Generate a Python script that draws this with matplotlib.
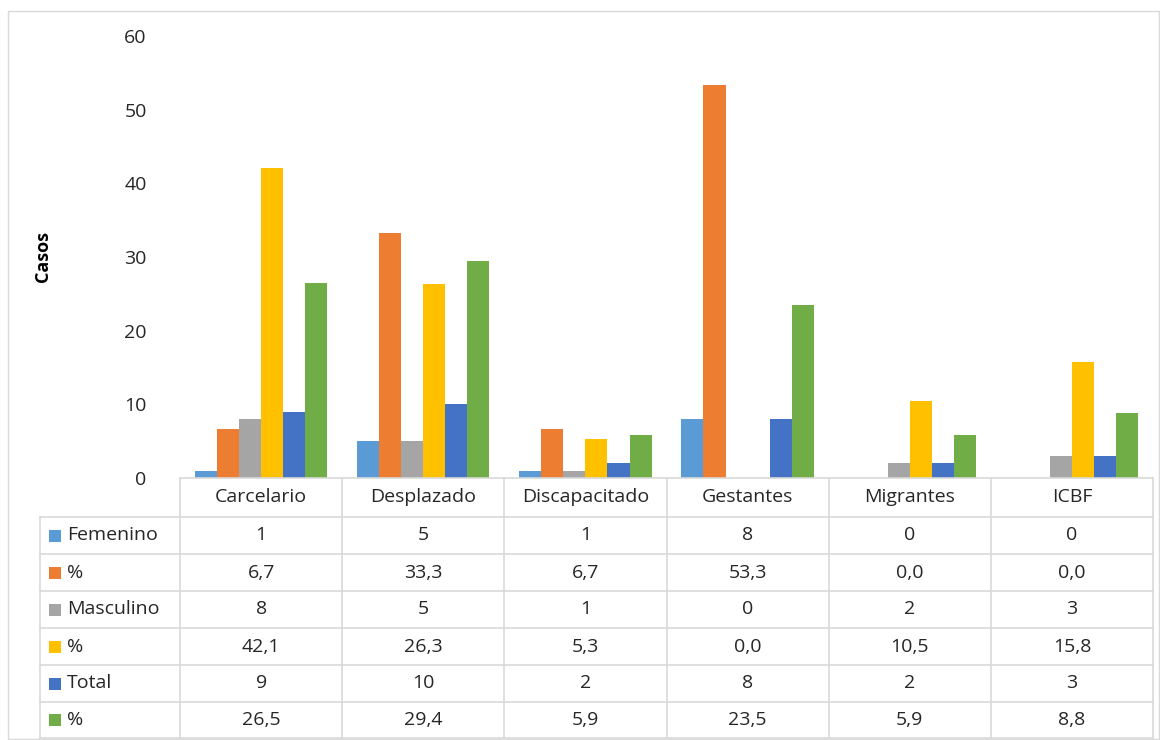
import numpy as np
import matplotlib.pyplot as plt
from matplotlib.lines import Line2D
from matplotlib.patches import Rectangle

categories = ['Carcelario', 'Desplazado', 'Discapacitado', 'Gestantes', 'Migrantes', 'ICBF']
series_names = ['Femenino', '%', 'Masculino', '%', 'Total', '%']
femenino = [1, 5, 1, 8, 0, 0]
pct_fem = [6.7, 33.3, 6.7, 53.3, 0.0, 0.0]
masculino = [8, 5, 1, 0, 2, 3]
pct_masc = [42.1, 26.3, 5.3, 0.0, 10.5, 15.8]
total = [9, 10, 2, 8, 2, 3]
pct_total = [26.5, 29.4, 5.9, 23.5, 5.9, 8.8]
series = [femenino, pct_fem, masculino, pct_masc, total, pct_total]
colors = ['#5B9BD5', '#ED7D31', '#A5A5A5', '#FFC000', '#4472C4', '#70AD47']

plt.rcParams['font.family'] = ['Open Sans', 'DejaVu Sans']
W, H = 1160, 740
fig = plt.figure(figsize=(W / 100, H / 100), dpi=100)

def fx(px):
    return px / W

def fy(py):
    return 1 - py / H

x0, x1, ytop, ybase = 180, 1153, 36, 478
ax = fig.add_axes([fx(x0), fy(ybase), fx(x1) - fx(x0), fy(ytop) - fy(ybase)])

n = len(categories)
x = np.arange(n)
bw = 0.136
for i, (vals, c) in enumerate(zip(series, colors)):
    ax.bar(x + (i - 2.5) * bw, vals, bw, color=c)

ax.set_xlim(-0.5, n - 0.5)
ax.set_ylim(0, 60)
ax.set_yticks(range(0, 61, 10))
ax.set_xticks([])
for s in ax.spines.values():
    s.set_visible(False)
ax.tick_params(axis='y', length=0, labelsize=14, pad=24, labelcolor='#262626')
ax.set_ylabel('Casos', fontsize=13, fontweight='bold', labelpad=52)

# outer border
fig.add_artist(Rectangle((fx(8), fy(739)), fx(1159) - fx(8), fy(11) - fy(739),
                         transform=fig.transFigure, fill=False, ec='#D9D9D9', lw=1))

# data table
grid = '#D9D9D9'
col_edges = np.linspace(x0, x1, n + 1)
row_edges = [ybase, 517, 554, 591, 628, 665, 702, 738]
label_left = 40

def hline(xa, xb, yy):
    fig.add_artist(Line2D([fx(xa), fx(xb)], [fy(yy), fy(yy)], color=grid, lw=1.2))

def vline(xx, ya, yb):
    fig.add_artist(Line2D([fx(xx), fx(xx)], [fy(ya), fy(yb)], color=grid, lw=1.2))

hline(x0, x1, row_edges[0])
for yy in row_edges[1:]:
    hline(label_left, x1, yy)
for xx in col_edges:
    vline(xx, row_edges[0], row_edges[-1])
vline(label_left, row_edges[1], row_edges[-1])

tfs = 14
for j, cat in enumerate(categories):
    cx = (col_edges[j] + col_edges[j + 1]) / 2
    fig.text(fx(cx), fy((row_edges[0] + row_edges[1]) / 2), cat, ha='center', va='center',
             fontsize=tfs, color='#262626')

for i, (name, vals, c) in enumerate(zip(series_names, series, colors)):
    cy = (row_edges[i + 1] + row_edges[i + 2]) / 2
    fig.add_artist(Rectangle((fx(49), fy(cy + 6)), fx(12), 12 / H, transform=fig.transFigure,
                             color=c, lw=0))
    fig.text(fx(67), fy(cy), name, ha='left', va='center', fontsize=tfs, color='#262626')
    for j, v in enumerate(vals):
        cx = (col_edges[j] + col_edges[j + 1]) / 2
        txt = f'{v:.1f}'.replace('.', ',') if name == '%' else f'{v:d}'
        fig.text(fx(cx), fy(cy), txt, ha='center', va='center', fontsize=tfs, color='#262626')

fig.savefig('out.png', dpi=100)
